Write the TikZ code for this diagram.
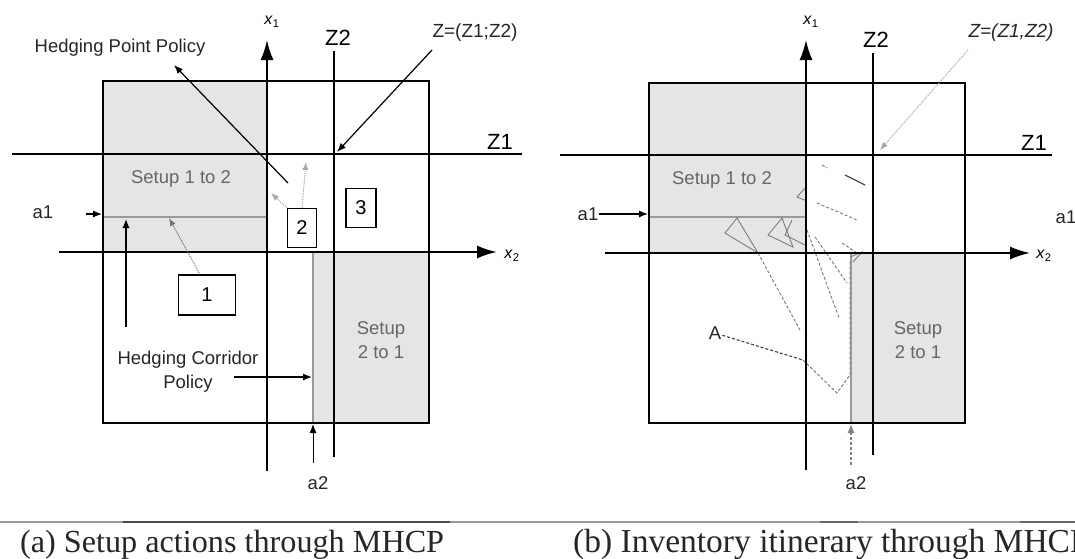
\documentclass[tikz,border=0pt]{standalone}
\usepackage{fontspec}
\setmainfont{Liberation Sans}
\newfontfamily\capfont{Liberation Serif}
\usetikzlibrary{arrows.meta,positioning}
\definecolor{shade}{gray}{0.9}
\definecolor{trace}{gray}{0.45}
\tikzset{
  >=Latex,
  frame/.style={draw, line width=2.2pt},
  region/.style={fill=shade, draw=none},
  level/.style={draw=black!40, line width=1.1pt},
  zline/.style={line width=2pt},
  axis/.style={line width=2pt, -{Latex[length=20pt,width=13pt]}},
  numbox/.style={draw, fill=white, line width=1.2pt, inner sep=0pt,
    font=\fontsize{20}{22}\selectfont},
  lbl/.style={inner sep=1pt, text=black!85, align=center,
    font=\fontsize{18.5}{24}\selectfont},
  setup/.style={lbl, text=black!60},
  zlbl/.style={inner sep=1pt, font=\fontsize{22}{24}\selectfont},
  axlbl/.style={inner sep=1pt, font=\fontsize{16}{18}\selectfont},
  arr/.style={-{Latex[length=9pt,width=7pt]}, line width=1.2pt},
  faint/.style={-{Latex[length=8pt,width=6pt]}, densely dotted, draw=black!35, line width=1pt},
  trail/.style={draw=trace, densely dashed, line width=0.9pt},
  captext/.style={inner sep=0pt, anchor=base west, text=black!85}
}

\begin{document}
\begin{tikzpicture}[x=1pt,y=-1pt]
\useasboundingbox (0,0) rectangle (1075,558);
\clip (0,0) rectangle (1075,558);

% ------------------------------------------------------------------
% (a) setup actions
% ------------------------------------------------------------------
\fill[region] (103,81) rectangle (267,252);
\fill[region] (313,252) rectangle (429,423);
\draw[level] (103,217) -- (267,217);
\draw[level] (313,252) -- (313,423);
\draw[frame] (103,81) rectangle (429,423);

\coordinate (z1lA) at (12,154);   \coordinate (z1rA) at (522,154);
\coordinate (z2bA) at (334,457);  \coordinate (z2tA) at (334,51);
\coordinate (x1bA) at (267,471);  \coordinate (x1tA) at (267,40);
\coordinate (x2lA) at (59,252);   \coordinate (x2rA) at (497,252);
\draw[zline] (z1lA) -- (z1rA);
\draw[zline] (z2bA) -- (z2tA);
\draw[axis] (x1bA) -- (x1tA);
\draw[axis] (x2lA) -- (x2rA);

\node[zlbl] (z1labA) at (500,142) {Z1};
\node[zlbl] (z2labA) at (338,38) {Z2};
\node[axlbl] (x1labA) at (272,22) {\textit{x}\textsubscript{1}};
\node[axlbl] (x2labA) at (512,256) {\textit{x}\textsubscript{2}};
\node[lbl, font=\fontsize{19}{20}\selectfont] (zlabA) at (475,33) {Z=(Z1;Z2)};
\node[lbl] (hppA) at (120,48) {Hedging Point Policy};
\node[setup] (s12A) at (181,179) {Setup 1 to 2};
\node[setup] (s21A) at (381,340) {Setup\\2 to 1};
\node[lbl] (hcpA) at (188,372) {Hedging Corridor\\Policy};
\node[lbl] (a1labA) at (43,212) {a1};
\node[lbl] (a2labA) at (318,483) {a2};

\node[numbox, minimum width=57pt, minimum height=40pt] (oneA) at (207,295) {1};
\node[numbox, minimum width=29pt, minimum height=39pt] (twoA) at (302,228) {2};
\node[numbox, minimum width=30pt, minimum height=39pt] (threeA) at (361,208) {3};

\coordinate (hppTailA) at (288,183);  \coordinate (hppTipA) at (174,65);
\coordinate (zTailA) at (432,50);     \coordinate (zTipA) at (337,152);
\coordinate (a1TailA) at (86,214);    \coordinate (a1TipA) at (102,214);
\coordinate (a2TailA) at (313,463);   \coordinate (a2TipA) at (313,424);
\coordinate (corTailA) at (126,327);  \coordinate (corTipA) at (126,219);
\coordinate (hcpTailA) at (234,377);  \coordinate (hcpTipA) at (312,377);
\coordinate (oneTipA) at (169,218);
\coordinate (axTipA) at (271,193);    \coordinate (zlTipA) at (306,162);

\draw[arr] (hppTailA) -- (hppTipA);
\draw[arr] (zTailA) -- (zTipA);
\draw[arr] (a1TailA) -- (a1TipA);
\draw[arr, line width=1pt] (a2TailA) -- (a2TipA);
\draw[arr] (corTailA) -- (corTipA);
\draw[arr] (hcpTailA) -- (hcpTipA);
\draw[faint, draw=black!55] ([xshift=-7pt]oneA.north) -- (oneTipA);
\draw[faint] (twoA.north west) -- (axTipA);
\draw[faint] (twoA.north) -- (zlTipA);

% ------------------------------------------------------------------
% (b) inventory itinerary
% ------------------------------------------------------------------
\begin{scope}[xshift=539pt]
\fill[region] (110,83) rectangle (267,252);
\fill[region] (312,252) rectangle (426,423);
\draw[level] (110,217) -- (267,217);
\draw[level] (312,252) -- (312,423);
\draw[frame] (110,83) rectangle (426,423);

% itinerary
\draw[draw=trace, line width=0.8pt] (198,218) -- (186,233) -- (219,253) -- cycle;
\draw[draw=trace, line width=0.8pt] (243,218) -- (229,235) -- (254,247) -- cycle;
\draw[draw=trace, line width=0.8pt] (253,220) -- (246,235) -- (266,245);
\draw[draw=trace, line width=0.8pt] (266,188) -- (258,197) -- (268,201);
\draw[draw=trace, line width=0.8pt] (311,257) -- (323,252) -- (314,262);
\draw[trail] (219,253) -- (261,330);
\draw[trail] (268,230) -- (300,318);
\draw[trail] (276,237) -- (308,283);
\draw[trail] (283,165) -- (288,168);
\draw[trail] (278,203) -- (318,220);
\draw[trail] (303,243) -- (318,253);
\draw[trail] (264,360) -- (298,393) -- (311,375) -- (311,262);
\draw[draw=black!70, line width=1.2pt] (306,175) -- (326,185);

\coordinate (z1lB) at (21,155);   \coordinate (z1rB) at (513,155);
\coordinate (z2bB) at (334,455);  \coordinate (z2tB) at (334,53);
\coordinate (x1bB) at (267,470);  \coordinate (x1tB) at (267,40);
\coordinate (x2lB) at (66,253);   \coordinate (x2rB) at (491,253);
\draw[zline] (z1lB) -- (z1rB);
\draw[zline] (z2bB) -- (z2tB);
\draw[axis] (x1bB) -- (x1tB);
\draw[axis] (x2lB) -- (x2rB);

\node[zlbl] (z1labB) at (495,143) {Z1};
\node[zlbl] (z2labB) at (337,40) {Z2};
\node[axlbl] (x1labB) at (272,22) {\textit{x}\textsubscript{1}};
\node[axlbl] (x2labB) at (505,256) {\textit{x}\textsubscript{2}};
\node[lbl, font=\fontsize{19}{20}\selectfont\itshape] (zlabB) at (472,33) {Z=(Z1,Z2)};
\node[setup] (s12B) at (183,180) {Setup 1 to 2};
\node[setup] (s21B) at (379,340) {Setup\\2 to 1};
\node[lbl] (a1labB) at (49,214) {a1};
\node[lbl] (a1rightB) at (527,217) {a1};
\node[lbl] (a2labB) at (317,483) {a2};
\node[lbl] (ptA) at (176,333) {A};

\coordinate (zTailB) at (429,50);     \coordinate (zTipB) at (341,150);
\coordinate (a1TipB) at (109,214);
\coordinate (a2TailB) at (312,465);   \coordinate (a2TipB) at (312,424);
\coordinate (ptTipB) at (264,360);

\draw[faint] (zTailB) -- (zTipB);
\draw[arr] (a1labB) -- (a1TipB);
\draw[arr, densely dashed, draw=black!50] (a2TailB) -- (a2TipB);
\draw[densely dashed, line width=1.1pt, draw=black!75] (ptA) -- (ptTipB);
\end{scope}

% ------------------------------------------------------------------
% captions
% ------------------------------------------------------------------
\coordinate (ruleL) at (0,522);  \coordinate (ruleR) at (1075,522);
\draw[black!40, line width=1.5pt] (ruleL) -- (ruleR);
\draw[black!70, line width=1.8pt] (123,522) -- (450,522);
\draw[black!60, line width=1.8pt] (820,522) -- (858,522);
\draw[black!60, line width=1.8pt] (1020,522) -- (1075,522);
\node[captext, font=\capfont\fontsize{32.2}{34}\selectfont] (capA) at (20,552)
  {(a) Setup actions through MHCP};
\node[captext, font=\capfont\fontsize{33.5}{35}\selectfont] (capB) at (573,552)
  {(b) Inventory itinerary through MHCP};

\end{tikzpicture}
\end{document}
